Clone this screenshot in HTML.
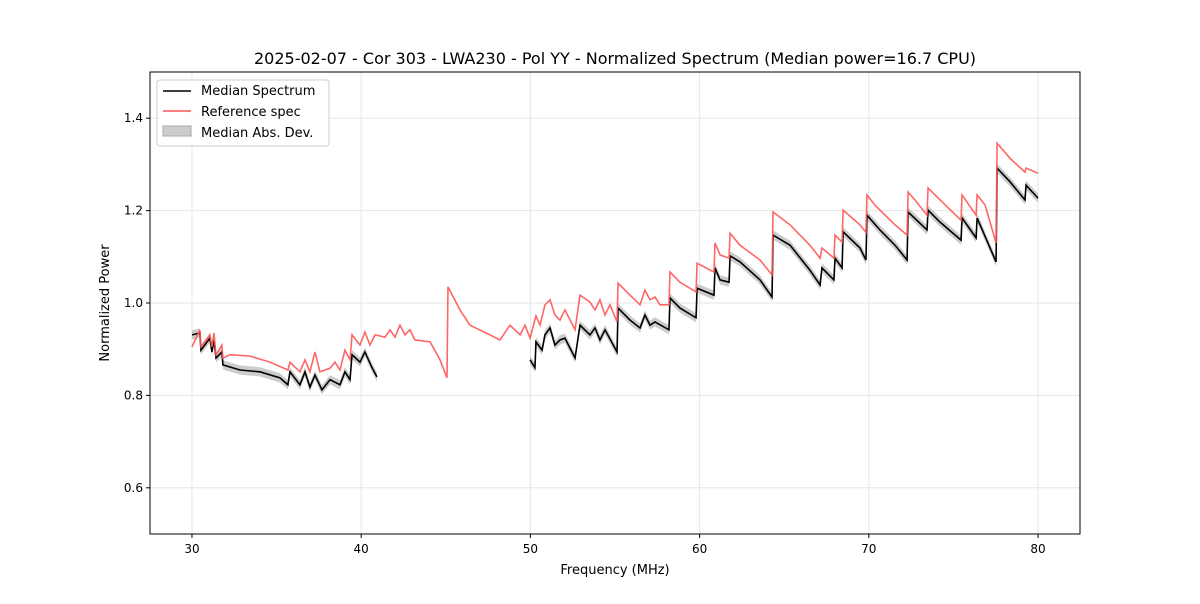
<!DOCTYPE html>
<html><head><meta charset="utf-8"><style>
body{margin:0;background:#fff;font-family:"DejaVu Sans","Liberation Sans",sans-serif;}
svg text{font-family:"DejaVu Sans","Liberation Sans",sans-serif;}
</style></head><body>
<svg id="chart" width="1200" height="600" xmlns="http://www.w3.org/2000/svg">
<rect width="1200" height="600" fill="#fff"/>
<text x="615" y="64" font-size="16" text-anchor="middle">2025-02-07 - Cor 303 - LWA230 - Pol YY - Normalized Spectrum (Median power=16.7 CPU)</text>
<g id="grid"></g>
<g id="series"></g>
<rect x="150" y="72" width="930" height="462" fill="none" stroke="#000" stroke-width="1"/>
<g id="ticks"></g>
<text x="615" y="574" font-size="13" text-anchor="middle">Frequency (MHz)</text>
<text x="109" y="303" font-size="13" text-anchor="middle" transform="rotate(-90 109 303)">Normalized Power</text>
<g>
<rect x="157" y="80" width="172" height="66" rx="3" fill="#fff" fill-opacity="0.8" stroke="#ccc"/>
<line x1="163" y1="91" x2="191" y2="91" stroke="#000" stroke-width="1.5"/>
<text x="201" y="95" font-size="13">Median Spectrum</text>
<line x1="163" y1="111" x2="191" y2="111" stroke="#ff5555" stroke-width="1.5"/>
<text x="201" y="116" font-size="13">Reference spec</text>
<rect x="163" y="126" width="28" height="10" fill="#ccc" stroke="#aaa"/>
<text x="201" y="137" font-size="13">Median Abs. Dev.</text>
</g>
</svg>
<script>
const xTicks=[30,40,50,60,70,80];
const yTicks=[0.6,0.8,1.0,1.2,1.4];
const yTickLabels=["0.6","0.8","1.0","1.2","1.4"];
const refFreq=[30.0,30.47,30.53,31.06,31.18,31.30,31.42,31.77,31.83,32.25,33.43,34.61,35.67,35.79,36.38,36.68,36.97,37.27,37.56,38.16,38.45,38.75,39.04,39.34,39.46,39.93,40.22,40.52,40.82,41.41,41.70,42.0,42.29,42.59,42.88,43.18,44.07,44.66,45.07,45.13,45.84,46.43,47.61,48.20,48.79,49.39,49.68,49.98,50.33,50.57,50.86,51.16,51.45,51.75,52.04,52.64,52.93,53.52,53.82,54.11,54.41,54.70,55.12,55.18,55.89,56.48,56.77,57.07,57.36,57.66,58.19,58.25,58.84,59.79,59.85,60.85,60.91,61.21,61.74,61.80,62.39,63.57,64.28,64.34,65.35,66.52,67.12,67.23,67.94,68.0,68.42,68.48,69.48,69.83,69.89,70.36,71.55,72.26,72.32,72.73,73.44,73.50,74.21,75.45,75.51,76.34,76.40,76.87,77.52,77.58,78.35,79.23,79.29,80.0];
const refVal=[0.905,0.942,0.905,0.931,0.905,0.935,0.888,0.909,0.881,0.888,0.885,0.872,0.855,0.872,0.851,0.877,0.851,0.894,0.851,0.859,0.872,0.855,0.898,0.877,0.931,0.909,0.937,0.909,0.931,0.926,0.942,0.926,0.952,0.931,0.942,0.920,0.916,0.877,0.838,1.035,0.985,0.952,0.931,0.920,0.952,0.931,0.952,0.924,0.972,0.952,0.996,1.007,0.974,0.963,0.985,0.942,1.017,1.002,0.985,1.007,0.974,0.996,0.959,1.043,1.017,0.996,1.028,1.007,1.013,0.996,0.996,1.067,1.045,1.024,1.086,1.067,1.130,1.104,1.097,1.151,1.125,1.093,1.061,1.197,1.169,1.125,1.097,1.119,1.097,1.147,1.132,1.201,1.169,1.153,1.234,1.212,1.169,1.147,1.240,1.223,1.190,1.249,1.223,1.179,1.234,1.190,1.234,1.212,1.130,1.346,1.313,1.283,1.292,1.281];
const medFreq=[30.0,30.47,30.53,31.06,31.18,31.30,31.42,31.77,31.83,32.84,34.02,35.20,35.67,35.79,36.38,36.68,36.97,37.27,37.68,38.16,38.75,39.04,39.34,39.46,39.93,40.22,40.64,40.93,null,49.98,50.27,50.33,50.69,50.86,51.16,51.45,51.75,52.04,52.64,52.93,53.52,53.82,54.11,54.41,55.12,55.18,55.89,56.48,56.77,57.07,57.36,58.19,58.25,58.84,59.79,59.85,60.85,60.91,61.21,61.74,61.80,62.39,63.57,64.28,64.34,65.35,66.52,67.12,67.23,67.94,68.0,68.42,68.48,69.48,69.83,69.89,70.66,71.55,72.26,72.32,73.44,73.50,74.21,75.45,75.51,76.34,76.40,77.52,77.58,78.35,79.23,79.29,80.0];
const medVal=[0.931,0.935,0.898,0.924,0.894,0.920,0.881,0.894,0.866,0.855,0.851,0.838,0.823,0.851,0.823,0.851,0.818,0.844,0.812,0.834,0.823,0.851,0.834,0.888,0.872,0.894,0.860,0.840,null,0.877,0.860,0.916,0.898,0.931,0.946,0.909,0.920,0.924,0.881,0.952,0.931,0.946,0.920,0.942,0.894,0.989,0.963,0.946,0.974,0.952,0.959,0.942,1.011,0.989,0.968,1.032,1.017,1.076,1.050,1.045,1.102,1.089,1.050,1.013,1.147,1.125,1.071,1.039,1.076,1.050,1.097,1.076,1.154,1.119,1.093,1.190,1.158,1.125,1.093,1.197,1.158,1.201,1.175,1.136,1.184,1.141,1.184,1.089,1.292,1.262,1.223,1.255,1.227];
const madWidth=0.01;

const L=150,R=1080,T=72,B=534,XMIN=27.52,XMAX=82.48,YMIN=0.5,YMAX=1.5;
const xs=f=>L+(f-XMIN)/(XMAX-XMIN)*(R-L);
const ys=v=>B-(v-YMIN)/(YMAX-YMIN)*(B-T);
const NS="http://www.w3.org/2000/svg";
function mk(tag,attrs,parent){const e=document.createElementNS(NS,tag);for(const k in attrs)e.setAttribute(k,attrs[k]);parent.appendChild(e);return e;}
const grid=document.getElementById('grid'),ticks=document.getElementById('ticks'),series=document.getElementById('series');
xTicks.forEach(t=>{const x=xs(t);
 const g=mk('line',{x1:x,x2:x,y1:T,y2:B,stroke:'#e6e6e6','stroke-width':1},grid);
 
 
 mk('line',{x1:x,x2:x,y1:B,y2:B+4,stroke:'#000'},ticks);
 const tx=mk('text',{x:x,y:B+19,'font-size':12,'text-anchor':'middle'},ticks);tx.textContent=t;
 
 
});
yTicks.forEach((t,i)=>{const y=ys(t);
 const g=mk('line',{x1:L,x2:R,y1:y,y2:y,stroke:'#e6e6e6','stroke-width':1},grid);
 
 
 mk('line',{x1:L-4,x2:L,y1:y,y2:y,stroke:'#000'},ticks);
 const tx=mk('text',{x:L-7,y:y+4,'font-size':12,'text-anchor':'end'},ticks);tx.textContent=yTickLabels[i];
 
 
});
function segs(fa,va){const out=[];let cur=[];fa.forEach((f,i)=>{if(f===null){if(cur.length)out.push(cur);cur=[];}else cur.push([f,va[i]]);});if(cur.length)out.push(cur);return out;}
segs(medFreq,medVal).forEach(s=>{
 const top=s.map(p=>xs(p[0])+','+ys(p[1]+madWidth)).join(' ');
 const bot=s.slice().reverse().map(p=>xs(p[0])+','+ys(p[1]-madWidth)).join(' ');
 const b=mk('polygon',{points:top+' '+bot,fill:'#bbb','fill-opacity':0.75,stroke:'none'},series);
 
 
});
segs(medFreq,medVal).forEach(s=>{
 const l=mk('polyline',{points:s.map(p=>xs(p[0])+','+ys(p[1])).join(' '),fill:'none',stroke:'#000','stroke-width':1.6},series);
 
 
});
segs(refFreq,refVal).forEach(s=>{
 const l=mk('polyline',{points:s.map(p=>xs(p[0])+','+ys(p[1])).join(' '),fill:'none',stroke:'#ff5555','stroke-width':1.6,'stroke-opacity':0.9},series);
 
 
});
</script>
</body></html>
